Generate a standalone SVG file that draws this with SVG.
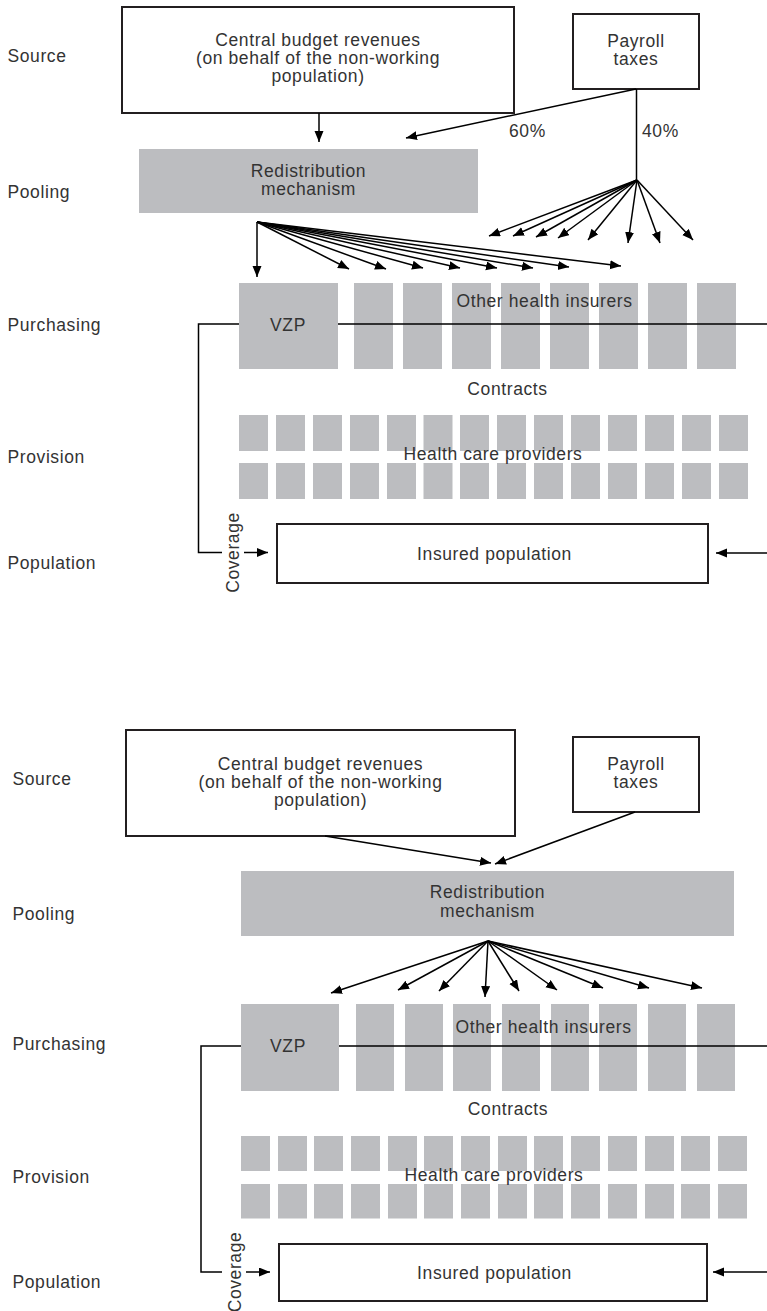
<svg xmlns="http://www.w3.org/2000/svg" width="767" height="1311" viewBox="0 0 767 1311">
<style>
text{font-family:"Liberation Sans",Arial,Helvetica,sans-serif;font-size:17.5px;letter-spacing:0.6px;fill:#333}
.c{text-anchor:middle}
.box{fill:#fff;stroke:#231f20;stroke-width:2}
.g{fill:#bcbdc0;stroke:none}
.ln{fill:none;stroke:#000;stroke-width:1.5}
.ar{fill:none;stroke:#000;stroke-width:1.5;marker-end:url(#ah)}
</style>
<defs>
<marker id="ah" markerWidth="12" markerHeight="10" refX="11" refY="4.5" orient="auto" markerUnits="userSpaceOnUse"><path d="M0,0 L11,4.5 L0,9 z" fill="#000"/></marker>
</defs>
<rect width="767" height="1311" fill="#fff"/>

<!-- ================= TOP DIAGRAM ================= -->
<g id="top-labels">
<text x="7.5" y="62">Source</text>
<text x="7.5" y="198">Pooling</text>
<text x="7.5" y="331">Purchasing</text>
<text x="7.5" y="463">Provision</text>
<text x="7.5" y="569">Population</text>
</g>
<g id="t-central"><rect class="box" x="122" y="7" width="392" height="106"/>
<text class="c" x="318" y="46">Central budget revenues</text>
<text class="c" x="318" y="64">(on behalf of the non-working</text>
<text class="c" x="318" y="82">population)</text></g>
<g id="t-payroll"><rect class="box" x="573" y="14" width="126" height="75"/>
<text class="c" x="636" y="47">Payroll</text>
<text class="c" x="636" y="65">taxes</text></g>
<g id="t-redist"><rect class="g" x="139" y="149" width="339" height="64"/>
<text class="c" x="308.5" y="177">Redistribution</text>
<text class="c" x="308.5" y="195">mechanism</text></g>
<g id="t-others">
<rect class="g" x="354" y="283" width="39" height="86"/>
<rect class="g" x="403" y="283" width="39" height="86"/>
<rect class="g" x="452" y="283" width="39" height="86"/>
<rect class="g" x="501" y="283" width="39" height="86"/>
<rect class="g" x="550" y="283" width="39" height="86"/>
<rect class="g" x="599" y="283" width="39" height="86"/>
<rect class="g" x="648" y="283" width="39" height="86"/>
<rect class="g" x="697" y="283" width="39" height="86"/>
<text class="c" x="544.5" y="307">Other health insurers</text>
</g>
<g id="t-providers">
<g class="g">
<rect x="239" y="415" width="29" height="36"/><rect x="276" y="415" width="29" height="36"/><rect x="313" y="415" width="29" height="36"/><rect x="350" y="415" width="29" height="36"/><rect x="387" y="415" width="29" height="36"/><rect x="423.5" y="415" width="29" height="36"/><rect x="460" y="415" width="29" height="36"/><rect x="497" y="415" width="29" height="36"/><rect x="534" y="415" width="29" height="36"/><rect x="571" y="415" width="29" height="36"/><rect x="608" y="415" width="29" height="36"/><rect x="645" y="415" width="29" height="36"/><rect x="682" y="415" width="29" height="36"/><rect x="719" y="415" width="29" height="36"/>
<rect x="239" y="463" width="29" height="36"/><rect x="276" y="463" width="29" height="36"/><rect x="313" y="463" width="29" height="36"/><rect x="350" y="463" width="29" height="36"/><rect x="387" y="463" width="29" height="36"/><rect x="423.5" y="463" width="29" height="36"/><rect x="460" y="463" width="29" height="36"/><rect x="497" y="463" width="29" height="36"/><rect x="534" y="463" width="29" height="36"/><rect x="571" y="463" width="29" height="36"/><rect x="608" y="463" width="29" height="36"/><rect x="645" y="463" width="29" height="36"/><rect x="682" y="463" width="29" height="36"/><rect x="719" y="463" width="29" height="36"/>
</g>
<text class="c" x="493" y="460">Health care providers</text>
</g>
<g id="t-contracts"><text class="c" x="507.5" y="395">Contracts</text></g>
<g id="t-insured"><rect class="box" x="277" y="524" width="431" height="59"/>
<text class="c" x="494.5" y="559.5">Insured population</text></g>
<g id="t-connectors">
<line class="ar" x1="319" y1="113" x2="319" y2="142"/>
<line class="ar" x1="636" y1="89" x2="406" y2="138"/>
<line class="ln" x1="636.5" y1="89" x2="636.5" y2="180"/>
<text x="509" y="137">60%</text>
<text x="642" y="137">40%</text>
<line class="ar" x1="637" y1="180" x2="489" y2="236"/>
<line class="ar" x1="637" y1="180" x2="513" y2="236"/>
<line class="ar" x1="637" y1="180" x2="536" y2="237"/>
<line class="ar" x1="637" y1="180" x2="558" y2="238"/>
<line class="ar" x1="637" y1="180" x2="588" y2="240"/>
<line class="ar" x1="637" y1="180" x2="628" y2="243"/>
<line class="ar" x1="637" y1="180" x2="660" y2="243"/>
<line class="ar" x1="637" y1="180" x2="693" y2="240"/>
<line class="ar" x1="257" y1="222" x2="257" y2="277"/>
<line class="ar" x1="257" y1="222" x2="349" y2="269"/>
<line class="ar" x1="257" y1="222" x2="386" y2="269"/>
<line class="ar" x1="257" y1="222" x2="423" y2="268"/>
<line class="ar" x1="257" y1="222" x2="460" y2="268"/>
<line class="ar" x1="257" y1="222" x2="497" y2="268"/>
<line class="ar" x1="257" y1="222" x2="533" y2="268"/>
<line class="ar" x1="257" y1="222" x2="569" y2="267"/>
<line class="ar" x1="257" y1="222" x2="621" y2="266"/>
<polyline class="ln" points="767,324 198.5,324 198.5,552.5 222,552.5"/>
<line class="ar" x1="244" y1="552.5" x2="268" y2="552.5"/>
<line class="ar" x1="767" y1="553" x2="716" y2="553"/>
<text class="c" transform="translate(238.5,552.5) rotate(-90)">Coverage</text>
</g>
<g id="t-vzp"><rect class="g" x="239" y="283" width="99" height="86"/>
<text class="c" x="288" y="331">VZP</text></g>

<!-- ================= BOTTOM DIAGRAM ================= -->
<g id="bottom-labels">
<text x="12.5" y="785">Source</text>
<text x="12.5" y="920">Pooling</text>
<text x="12.5" y="1050">Purchasing</text>
<text x="12.5" y="1183">Provision</text>
<text x="12.5" y="1288">Population</text>
</g>
<g id="b-central"><rect class="box" x="126" y="730" width="389" height="106"/>
<text class="c" x="320.5" y="770">Central budget revenues</text>
<text class="c" x="320.5" y="788">(on behalf of the non-working</text>
<text class="c" x="320.5" y="806">population)</text></g>
<g id="b-payroll"><rect class="box" x="573" y="737" width="126" height="75"/>
<text class="c" x="636" y="770">Payroll</text>
<text class="c" x="636" y="788">taxes</text></g>
<g id="b-redist"><rect class="g" x="241" y="871" width="493" height="65"/>
<text class="c" x="487.5" y="898">Redistribution</text>
<text class="c" x="487.5" y="917">mechanism</text></g>
<g id="b-others">
<rect class="g" x="356" y="1004" width="38" height="87"/>
<rect class="g" x="405" y="1004" width="38" height="87"/>
<rect class="g" x="453" y="1004" width="38" height="87"/>
<rect class="g" x="502" y="1004" width="38" height="87"/>
<rect class="g" x="551" y="1004" width="38" height="87"/>
<rect class="g" x="599" y="1004" width="38" height="87"/>
<rect class="g" x="648" y="1004" width="38" height="87"/>
<rect class="g" x="697" y="1004" width="38" height="87"/>
<text class="c" x="543.5" y="1033">Other health insurers</text>
</g>
<g id="b-providers">
<g class="g">
<rect x="241" y="1136" width="29" height="35"/><rect x="278" y="1136" width="29" height="35"/><rect x="314" y="1136" width="29" height="35"/><rect x="351" y="1136" width="29" height="35"/><rect x="388" y="1136" width="29" height="35"/><rect x="424" y="1136" width="29" height="35"/><rect x="461" y="1136" width="29" height="35"/><rect x="498" y="1136" width="29" height="35"/><rect x="534" y="1136" width="29" height="35"/><rect x="571" y="1136" width="29" height="35"/><rect x="608" y="1136" width="29" height="35"/><rect x="645" y="1136" width="29" height="35"/><rect x="681" y="1136" width="29" height="35"/><rect x="718" y="1136" width="29" height="35"/>
<rect x="241" y="1184" width="29" height="34.5"/><rect x="278" y="1184" width="29" height="34.5"/><rect x="314" y="1184" width="29" height="34.5"/><rect x="351" y="1184" width="29" height="34.5"/><rect x="388" y="1184" width="29" height="34.5"/><rect x="424" y="1184" width="29" height="34.5"/><rect x="461" y="1184" width="29" height="34.5"/><rect x="498" y="1184" width="29" height="34.5"/><rect x="534" y="1184" width="29" height="34.5"/><rect x="571" y="1184" width="29" height="34.5"/><rect x="608" y="1184" width="29" height="34.5"/><rect x="645" y="1184" width="29" height="34.5"/><rect x="681" y="1184" width="29" height="34.5"/><rect x="718" y="1184" width="29" height="34.5"/>
</g>
<text class="c" x="494" y="1181">Health care providers</text>
</g>
<g id="b-contracts"><text class="c" x="508" y="1115">Contracts</text></g>
<g id="b-insured"><rect class="box" x="279" y="1244" width="428" height="57"/>
<text class="c" x="494.5" y="1279">Insured population</text></g>
<g id="b-connectors">
<line class="ar" x1="325" y1="836" x2="491" y2="863"/>
<line class="ar" x1="635" y1="812" x2="495" y2="864"/>
<line class="ar" x1="488" y1="941" x2="331" y2="993"/>
<line class="ar" x1="488" y1="941" x2="398" y2="990"/>
<line class="ar" x1="488" y1="941" x2="439" y2="991"/>
<line class="ar" x1="488" y1="941" x2="485" y2="997"/>
<line class="ar" x1="488" y1="941" x2="519" y2="991"/>
<line class="ar" x1="488" y1="941" x2="557" y2="990"/>
<line class="ar" x1="488" y1="941" x2="603" y2="988"/>
<line class="ar" x1="488" y1="941" x2="649" y2="988"/>
<line class="ar" x1="488" y1="941" x2="702" y2="988"/>
<polyline class="ln" points="767,1046 201,1046 201,1272 222,1272"/>
<line class="ar" x1="246" y1="1272" x2="270" y2="1272"/>
<line class="ar" x1="767" y1="1272" x2="713" y2="1272"/>
<text class="c" transform="translate(241,1272) rotate(-90)">Coverage</text>
</g>
<g id="b-vzp"><rect class="g" x="241" y="1004" width="98" height="87"/>
<text class="c" x="288" y="1052">VZP</text></g>
</svg>
